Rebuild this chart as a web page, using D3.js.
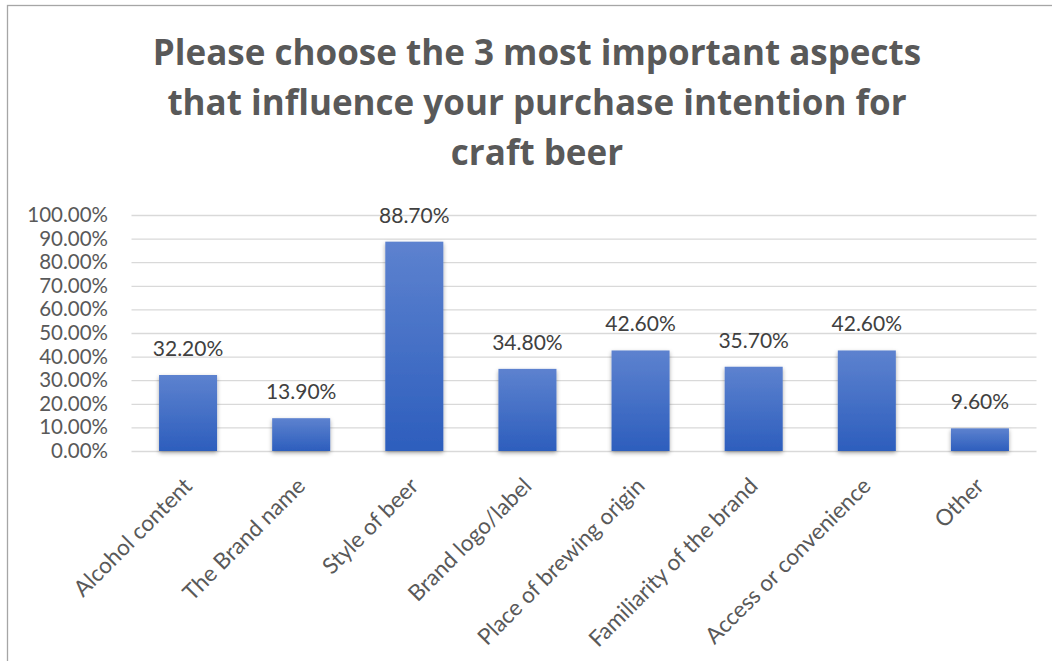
<!DOCTYPE html>
<html>
<head>
<meta charset="utf-8">
<script src="https://cdn.jsdelivr.net/npm/d3@7"></script>
<style>
  html, body { margin: 0; padding: 0; background: #fff; }
  svg { display: block; }
</style>
</head>
<body>
<svg id="chart" width="1052" height="661"></svg>
<script>
const categories = ["Alcohol content", "The Brand name", "Style of beer", "Brand logo/label",
  "Place of brewing origin", "Familiarity of the brand", "Access or convenience", "Other"];
const values = [32.2, 13.9, 88.7, 34.8, 42.6, 35.7, 42.6, 9.6];
const yTicks = [0, 10, 20, 30, 40, 50, 60, 70, 80, 90, 100];
const titleLines = ["Please choose the 3 most important aspects",
  "that influence your purchase intention for", "craft beer"];

const svg = d3.select("#chart");
const plot = { left: 131.5, right: 1036.5, top: 215, bottom: 451 };
const bodyFont = "Lato, 'Open Sans', sans-serif";

// frame
svg.append("rect").attr("x", 7.5).attr("y", 5.5).attr("width", 1100).attr("height", 700)
  .attr("fill", "#fff").attr("stroke", "#a6a6a6").attr("stroke-width", 1.3);

// defs
const defs = svg.append("defs");
const grad = defs.append("linearGradient").attr("id", "barGrad")
  .attr("x1", 0).attr("y1", 0).attr("x2", 0).attr("y2", 1);
grad.append("stop").attr("offset", "0%").attr("stop-color", "#5d82cf");
grad.append("stop").attr("offset", "100%").attr("stop-color", "#2d5ebd");
const f = defs.append("filter").attr("id", "shadow").attr("x", "-20%").attr("y", "-20%")
  .attr("width", "140%").attr("height", "140%");
f.append("feDropShadow").attr("dx", 0).attr("dy", 2).attr("stdDeviation", 2)
  .attr("flood-color", "#000").attr("flood-opacity", 0.35);

// title
svg.append("text").attr("x", 537).attr("y", 65)
  .attr("text-anchor", "middle").attr("fill", "#595959")
  .style("font-family", "'Open Sans', Lato, sans-serif")
  .style("font-weight", "bold").style("font-size", "35px")
  .selectAll("tspan").data(titleLines).join("tspan")
  .attr("x", 537).attr("dy", (d, i) => i === 0 ? 0 : 50).text(d => d);

const x = d3.scaleBand().domain(categories).range([plot.left, plot.right])
  .paddingInner(0.487).paddingOuter(0.2435);
const y = d3.scaleLinear().domain([0, 100]).range([plot.bottom, plot.top]);

// y axis with gridlines
const yAxis = d3.axisLeft(y).tickValues(yTicks)
  .tickFormat(d => d.toFixed(2) + "%")
  .tickSizeInner(-(plot.right - plot.left)).tickSizeOuter(0).tickPadding(23.5);
const yg = svg.append("g").attr("transform", `translate(${plot.left},0)`).call(yAxis);
yg.select(".domain").remove();
yg.selectAll(".tick line").attr("stroke", "#d9d9d9").attr("stroke-width", 1.3);
yg.selectAll(".tick text").attr("fill", "#595959")
  .style("font-size", "20.5px").style("font-family", bodyFont);

// bars
svg.append("g").selectAll("rect").data(values).join("rect")
  .attr("x", (d, i) => x(categories[i]))
  .attr("y", d => y(d))
  .attr("width", x.bandwidth())
  .attr("height", d => y(0) - y(d))
  .attr("fill", "url(#barGrad)")
  .attr("filter", "url(#shadow)");

// data labels
svg.append("g").selectAll("text").data(values).join("text")
  .attr("x", (d, i) => x(categories[i]) + x.bandwidth() / 2)
  .attr("y", d => y(d) - 19)
  .attr("text-anchor", "middle").attr("fill", "#404040")
  .style("font-size", "21px").style("font-family", bodyFont)
  .text(d => d.toFixed(2) + "%");

// x axis labels
const xAxis = d3.axisBottom(x).tickSize(0).tickPadding(0);
const xg = svg.append("g").attr("transform", `translate(0,${plot.bottom})`).call(xAxis);
xg.select(".domain").remove();
xg.selectAll(".tick text")
  .style("font-size", "22.5px").style("font-family", bodyFont)
  .attr("fill", "#595959")
  .attr("text-anchor", "end")
  .attr("x", 0).attr("y", 0).attr("dy", "0.72em")
  .attr("transform", "translate(-6,25) rotate(-45)");
</script>
</body>
</html>
